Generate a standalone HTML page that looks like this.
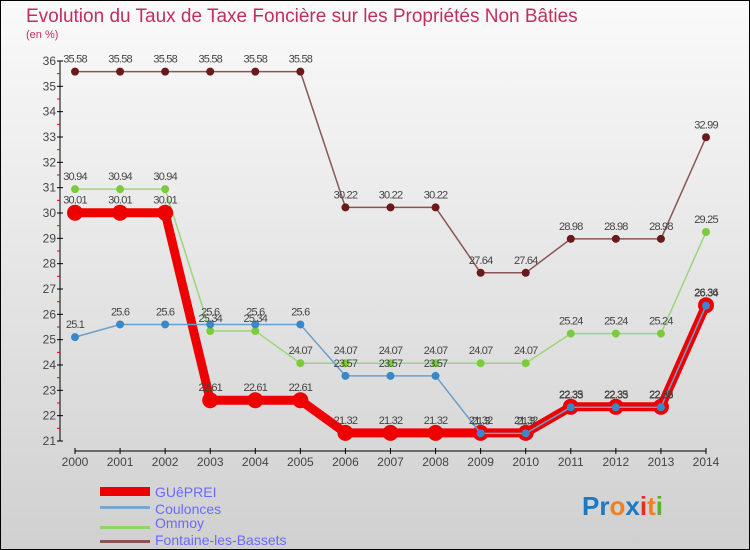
<!DOCTYPE html>
<html><head><meta charset="utf-8"><style>
body{margin:0;width:750px;height:550px;overflow:hidden;font-family:"Liberation Sans",sans-serif}
svg{display:block}
</style></head><body>
<svg id="c" width="750" height="550">
<defs><linearGradient id="bg" x1="0" y1="0" x2="0" y2="1"><stop offset="0" stop-color="#fafafa"/><stop offset="1" stop-color="#d0d0d0"/></linearGradient></defs>
<rect x="0.5" y="0.5" width="749" height="549" fill="url(#bg)" stroke="#000"/>
<text x="26" y="22" font-size="19" fill="#c0305a">Evolution du Taux de Taxe Foncière sur les Propriétés Non Bâties</text>
<text x="26" y="38" font-size="11" fill="#c0305a">(en %)</text>
<g id="axes"></g><g id="series"></g><g id="labels"></g>
<g>
<rect x="100" y="487" width="50" height="9" fill="#e00"/>
<text x="155" y="497" font-size="14" fill="#6a6aff">GUêPREI</text>
<rect x="100" y="506" width="50" height="3" fill="#7aa8cc"/>
<text x="155" y="514" font-size="14" fill="#6a6aff">Coulonces</text>
<rect x="100" y="526" width="50" height="3" fill="#8ed66a"/>
<text x="155" y="528" font-size="14" fill="#6a6aff">Ommoy</text>
<rect x="100" y="540" width="50" height="3" fill="#8a5555"/>
<text x="155" y="545" font-size="14" fill="#6a6aff">Fontaine-les-Bassets</text>
</g>
<text x="582" y="515" font-size="26" font-weight="bold"><tspan fill="#1a7ac8">Pr</tspan><tspan fill="#f08020">o</tspan><tspan fill="#1a7ac8">x</tspan><tspan fill="#e03020">i</tspan><tspan fill="#f08020">t</tspan><tspan fill="#60b030">i</tspan></text>
</svg>
<script>
const years=[2000,2001,2002,2003,2004,2005,2006,2007,2008,2009,2010,2011,2012,2013,2014];
const yTicks=[21,22,23,24,25,26,27,28,29,30,31,32,33,34,35,36];
const guepreil=[30.01,30.01,30.01,22.61,22.61,22.61,21.32,21.32,21.32,21.32,21.32,22.35,22.35,22.35,26.36];
const coulonces=[25.1,25.6,25.6,25.6,25.6,25.6,23.57,23.57,23.57,21.3,21.3,22.33,22.33,22.33,26.34];
const ommoy=[30.94,30.94,30.94,25.34,25.34,24.07,24.07,24.07,24.07,24.07,24.07,25.24,25.24,25.24,29.25];
const fontaine=[35.58,35.58,35.58,35.58,35.58,35.58,30.22,30.22,30.22,27.64,27.64,28.98,28.98,28.98,32.99];
const NS="http://www.w3.org/2000/svg";
const X=i=>75+i*(706-75)/(years.length-1);
const Y=v=>441-(v-21)*(441-61)/15;
function mk(t,a,p){const e=document.createElementNS(NS,t);for(const k in a)e.setAttribute(k,a[k]);p.appendChild(e);return e;}
const ax=document.getElementById('axes');
let yl=mk('line',{x1:60,y1:61,x2:60,y2:441,stroke:'#000'},ax);


yTicks.forEach(v=>{
 mk('line',{x1:57,x2:63,y1:Y(v),y2:Y(v),stroke:'#000'},ax);
 if(v<36)mk('line',{x1:57,x2:60,y1:Y(v+0.5),y2:Y(v+0.5),stroke:'#e00'},ax);
 const t=mk('text',{x:56,y:Y(v)+4,'font-size':12,'text-anchor':'end',fill:'#444'},ax);t.textContent=v;
 
 
});
let xl=mk('line',{x1:75,y1:451,x2:706,y2:451,stroke:'#000'},ax);


years.forEach((y,i)=>{
 mk('line',{x1:X(i),x2:X(i),y1:448,y2:454,stroke:'#000'},ax);
 const t=mk('text',{x:X(i),y:466,'font-size':12,'text-anchor':'middle',fill:'#444'},ax);t.textContent=y;
 
 
});
const sg=document.getElementById('series'),lg=document.getElementById('labels');
function draw(d,name,col,w,r,fill,halo){
 const pts=d.map((v,i)=>X(i)+','+Y(v)).join(' ');
 const pl=mk('polyline',{points:pts,fill:'none',stroke:col,'stroke-width':w,'stroke-linejoin':'round'},sg);
 
 
 d.forEach((v,i)=>{
  if(halo)mk('circle',{cx:X(i),cy:Y(v),r:halo,fill:'#e00'},sg);
  const c=mk('circle',{cx:X(i),cy:Y(v),r:r,fill:fill},sg);
  
  
  const t=mk('text',{x:X(i),y:Y(v)-9,'font-size':11,'text-anchor':'middle',fill:'#444','letter-spacing':'-0.8'},lg);
  t.textContent=v;
  
  
 });
}
draw(fontaine,'fontaine','#8a5555',1.5,4,'#6a1a1a');
draw(ommoy,'ommoy','#9ad67a',1.5,4,'#7acc3a');
draw(guepreil,'guepreil','#e00',9,4,'#e00',8);
draw(coulonces,'coulonces','#6aa0cc',1.5,4,'#3a88c8');
</script>
</body></html>
